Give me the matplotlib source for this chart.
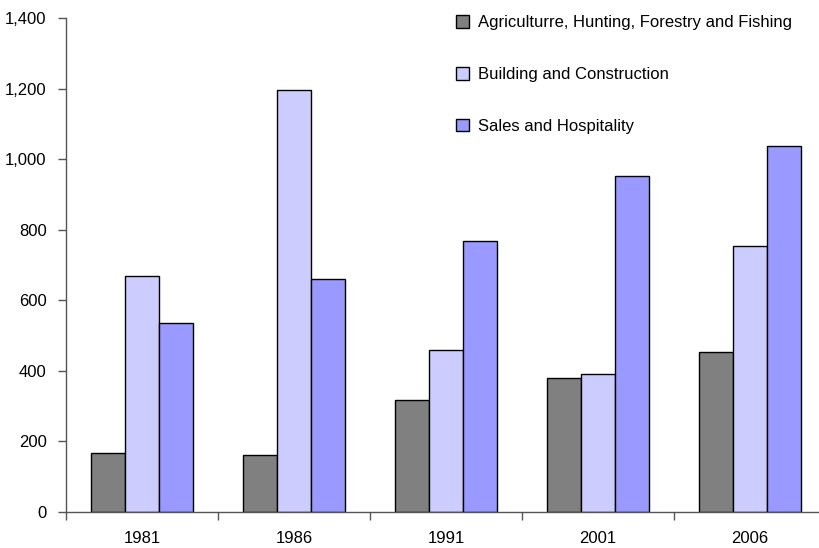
import matplotlib
matplotlib.use("Agg")
import matplotlib.pyplot as plt
import matplotlib.ticker as mticker
import numpy as np

anos = ["1981", "1986", "1991", "2001", "2006"]
agricultura = [167, 161, 317, 380, 453]
construcao = [670, 1197, 459, 391, 755]
vendas = [536, 660, 768, 952, 1037]

series = [
    ("Agriculturre, Hunting, Forestry and Fishing", agricultura, "#808080"),
    ("Building and Construction", construcao, "#ccccff"),
    ("Sales and Hospitality", vendas, "#9999ff"),
]

plt.rcParams["font.family"] = ["Liberation Sans", "DejaVu Sans"]

fig = plt.figure(figsize=(8.2, 5.48), dpi=100)
ax = fig.add_axes([0.0805, 0.0657, 0.927, 0.9014])

x = np.arange(len(anos))
largura = 0.224
for i, (nome, valores, cor) in enumerate(series):
    ax.bar(x + (i - 1) * largura, valores, largura, color=cor,
           edgecolor="black", linewidth=1.0, label=nome)

ax.set_xlim(-0.5, len(anos) - 0.5)
ax.set_ylim(0, 1400)
ax.yaxis.set_major_locator(mticker.MultipleLocator(200))
ax.yaxis.set_major_formatter(mticker.StrMethodFormatter("{x:,.0f}"))

ax.set_xticks(x)
ax.set_xticklabels(anos)
ax.set_xticks(np.arange(-0.5, len(anos)), minor=True)
ax.tick_params(axis="x", which="major", length=0, pad=14, labelsize=12)
ax.tick_params(axis="x", which="minor", length=6, width=1, color="#555555")
ax.tick_params(axis="y", length=6, width=1, color="#555555", labelsize=12, pad=8)

for lado in ("top", "right"):
    ax.spines[lado].set_visible(False)
for lado in ("left", "bottom"):
    ax.spines[lado].set_color("#555555")
    ax.spines[lado].set_linewidth(1)

ax.legend(loc="upper left", bbox_to_anchor=(0.538, 1.0), bbox_transform=fig.transFigure,
          frameon=False, fontsize=12, handlelength=0.8, handleheight=0.8,
          handletextpad=0.5, labelspacing=2.2)

plt.savefig("out.png", dpi=100)
